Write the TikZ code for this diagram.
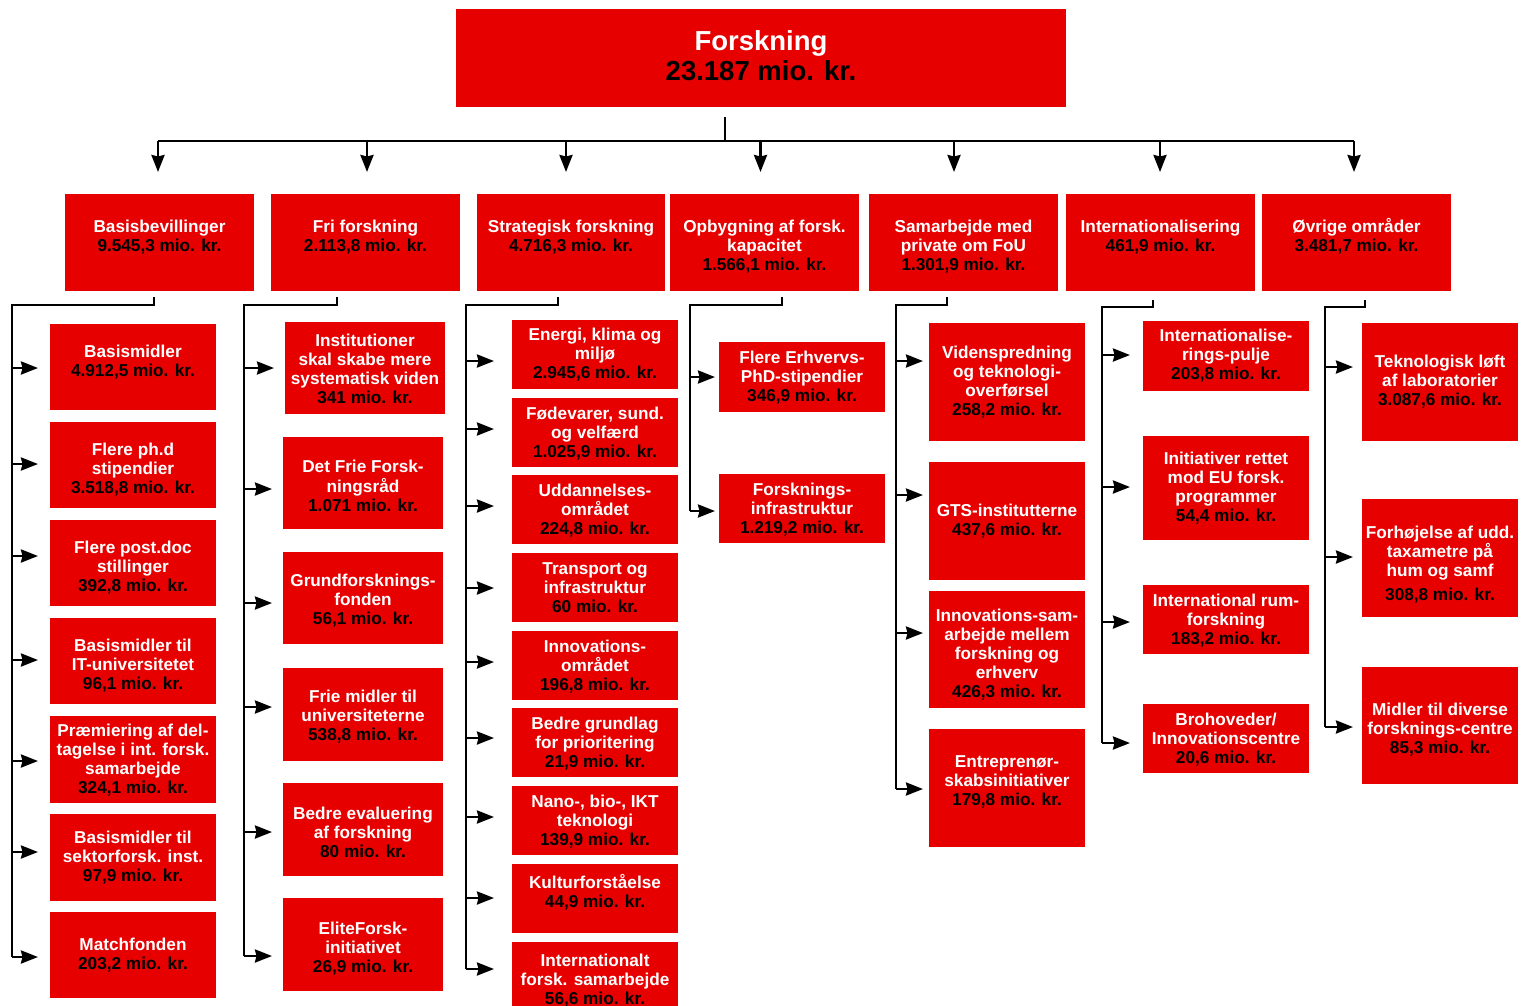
\documentclass[tikz,border=0pt]{standalone}
\usepackage{fontspec}
\setmainfont{Liberation Sans}
\usetikzlibrary{arrows.meta}
\definecolor{boxred}{RGB}{230,0,0}
\newcommand\tx[1]{\begin{tabular}[t]{@{}c@{}}#1\end{tabular}}
\newcommand\amt[1]{\textcolor{black}{#1}}
\tikzset{
  box/.style={draw=none, fill=boxred, inner sep=0pt, outer sep=0pt},
  txt/.style={inner sep=0pt, anchor=base, text=white, font=\fontsize{17.2}{19}\selectfont\bfseries},
  ttl/.style={inner sep=0pt, anchor=base, text=white, font=\fontsize{27.5}{30}\selectfont\bfseries},
  line/.style={draw=black, line width=2.7pt},
  arr/.style={line, -{Stealth[length=17pt,width=13pt,inset=1.5pt]}},
  gap1/.style={shorten >=12pt}, gap2/.style={shorten >=11pt}, gap3/.style={shorten >=18pt},
  gap4/.style={shorten >=4pt}, gap5/.style={shorten >=6pt}, gap6/.style={shorten >=13pt},
  gap7/.style={shorten >=9pt},
}
% name, column, x1, y1, x2, y2, baseline of first line, arrow y, text
\newcommand\lbox[9]{%
  \pgfmathsetmacro\bw{#5-#3}\pgfmathsetmacro\bh{#6-#4}%
  \pgfmathsetmacro\cx{(#3+#5)/2}\pgfmathsetmacro\cy{(#4+#6)/2}%
  \node[box, minimum width=\bw pt, minimum height=\bh pt] (#1) at (\cx,\cy) {};
  \node[txt] (#1t) at (\cx,#7) {\tx{#9}};
  \draw[arr, gap#2] (k#2 |- 0,#8) -- (#1.west |- 0,#8);
}
\begin{document}
\begin{tikzpicture}[x=1pt, y=-1pt]
\useasboundingbox (0,0) rectangle (1526,1005);
\fill[white] (0,0) rectangle (1526,1005);

% top node
\node[box, minimum width=610pt, minimum height=98pt] (top) at (761,58) {};
\node[ttl] (topt) at (761,50) {\tx{Forskning\\ \amt{23.187 mio. kr.}}};

% level 2
\foreach \n/\xa/\xb in {1/65/254, 2/271/460, 3/477/665, 4/670/859, 5/869/1058, 6/1066/1255, 7/1262/1451}{
  \pgfmathsetmacro\bw{\xb-\xa}\pgfmathsetmacro\cx{(\xa+\xb)/2}
  \node[box, minimum width=\bw pt, minimum height=97pt] (L\n) at (\cx,242.5) {};
}
\node[txt] (L1t) at (L1 |- 0,232) {\tx{Basisbevillinger\\ \amt{9.545,3 mio. kr.}}};
\node[txt] (L2t) at (L2 |- 0,232) {\tx{Fri forskning\\ \amt{2.113,8 mio. kr.}}};
\node[txt] (L3t) at (L3 |- 0,232) {\tx{Strategisk forskning\\ \amt{4.716,3 mio. kr.}}};
\node[txt] (L4t) at (L4 |- 0,232) {\tx{Opbygning af forsk.\\ kapacitet\\ \amt{1.566,1 mio. kr.}}};
\node[txt] (L5t) at (L5 |- 0,232) {\tx{Samarbejde med\\ private om FoU\\ \amt{1.301,9 mio. kr.}}};
\node[txt] (L6t) at (L6 |- 0,232) {\tx{Internationalisering\\ \amt{461,9 mio. kr.}}};
\node[txt] (L7t) at (L7 |- 0,232) {\tx{Øvrige områder\\ \amt{3.481,7 mio. kr.}}};

% top connectors
\coordinate (bar) at (725,141);
\draw[line] (top.south -| bar) ++(0,10) -- (bar);
\draw[line] ([xshift=-1.5pt]L1.north |- bar) -- ([xshift=-2.5pt]L7.north |- bar);
\foreach \n/\dx in {1/-1.5, 2/1.5, 3/-5, 4/-4, 5/-9.5, 6/-0.5, 7/-2.5}{
  \draw[arr, shorten >=22pt] ([xshift=\dx pt]L\n.north |- bar) -- ([xshift=\dx pt]L\n.north);
}

% trunks
\coordinate (k1) at (12,305);   \coordinate (s1) at (154,297);
\coordinate (k2) at (244,305);  \coordinate (s2) at (337,297);
\coordinate (k3) at (466,305);  \coordinate (s3) at (558,297);
\coordinate (k4) at (690,305);  \coordinate (s4) at (782,297);
\coordinate (k5) at (896,305);  \coordinate (s5) at (947,297);
\coordinate (k6) at (1102,307); \coordinate (s6) at (1153,300);
\coordinate (k7) at (1325,307); \coordinate (s7) at (1365,300);
\draw[line] (s1) |- (k1) -- (k1 |- 0,957);
\draw[line] (s2) |- (k2) -- (k2 |- 0,956);
\draw[line] (s3) |- (k3) -- (k3 |- 0,969);
\draw[line] (s4) |- (k4) -- (k4 |- 0,511);
\draw[line] (s5) |- (k5) -- (k5 |- 0,789);
\draw[line] (s6) |- (k6) -- (k6 |- 0,743);
\draw[line] (s7) |- (k7) -- (k7 |- 0,727);

% column 1
\lbox{a1}{1}{50}{324}{216}{410}{357.5}{368}{Basismidler\\ \amt{4.912,5 mio. kr.}}
\lbox{a2}{1}{50}{422}{216}{508}{455.5}{464}{Flere ph.d\\ stipendier\\ \amt{3.518,8 mio. kr.}}
\lbox{a3}{1}{50}{520}{216}{606}{553.5}{556}{Flere post.doc\\ stillinger\\ \amt{392,8 mio. kr.}}
\lbox{a4}{1}{50}{618}{216}{704}{651.5}{660}{Basismidler til\\ IT-universitetet\\ \amt{96,1 mio. kr.}}
\lbox{a5}{1}{50}{716}{216}{803}{736.5}{761}{Præmiering af del-\\ tagelse i int. forsk.\\ samarbejde\\ \amt{324,1 mio. kr.}}
\lbox{a6}{1}{50}{814}{216}{901}{843.5}{852}{Basismidler til\\ sektorforsk. inst.\\ \amt{97,9 mio. kr.}}
\lbox{a7}{1}{50}{912}{216}{998}{950.5}{957}{Matchfonden\\ \amt{203,2 mio. kr.}}

% column 2
\lbox{b1}{2}{285}{322}{445}{414}{346.5}{368}{Institutioner\\ skal skabe mere\\ systematisk viden\\ \amt{341 mio. kr.}}
\lbox{b2}{2}{283}{437}{443}{529}{472.5}{489}{Det Frie Forsk-\\ ningsråd\\ \amt{1.071 mio. kr.}}
\lbox{b3}{2}{283}{552}{443}{644}{586.5}{603}{Grundforsknings-\\ fonden\\ \amt{56,1 mio. kr.}}
\lbox{b4}{2}{283}{668}{443}{761}{702}{707}{Frie midler til\\ universiteterne\\ \amt{538,8 mio. kr.}}
\lbox{b5}{2}{283}{783}{443}{876}{819}{832}{Bedre evaluering\\ af forskning\\ \amt{80 mio. kr.}}
\lbox{b6}{2}{283}{898}{443}{991}{934}{956}{EliteForsk-\\ initiativet\\ \amt{26,9 mio. kr.}}

% column 3
\lbox{c1}{3}{512}{320}{678}{389}{340.5}{361}{Energi, klima og\\ miljø\\ \amt{2.945,6 mio. kr.}}
\lbox{c2}{3}{512}{398}{678}{467}{419}{429}{Fødevarer, sund.\\ og velfærd\\ \amt{1.025,9 mio. kr.}}
\lbox{c3}{3}{512}{475}{678}{544}{496}{506}{Uddannelses-\\ området\\ \amt{224,8 mio. kr.}}
\lbox{c4}{3}{512}{553}{678}{622}{574}{588}{Transport og\\ infrastruktur\\ \amt{60 mio. kr.}}
\lbox{c5}{3}{512}{631}{678}{700}{652}{662}{Innovations-\\ området\\ \amt{196,8 mio. kr.}}
\lbox{c6}{3}{512}{708}{678}{777}{729}{738}{Bedre grundlag\\ for prioritering\\ \amt{21,9 mio. kr.}}
\lbox{c7}{3}{512}{786}{678}{855}{807}{817}{Nano-, bio-, IKT\\ teknologi\\ \amt{139,9 mio. kr.}}
\lbox{c8}{3}{512}{864}{678}{933}{888.5}{898}{Kulturforståelse\\ \amt{44,9 mio. kr.}}
\lbox{c9}{3}{512}{942}{678}{1011}{966.5}{969}{Internationalt\\ forsk. samarbejde\\ \amt{56,6 mio. kr.}}

% column 4
\lbox{d1}{4}{719}{342}{885}{412}{363}{377}{Flere Erhvervs-\\ PhD-stipendier\\ \amt{346,9 mio. kr.}}
\lbox{d2}{4}{719}{474}{885}{543}{495}{511}{Forsknings-\\ infrastruktur\\ \amt{1.219,2 mio. kr.}}

% column 5
\lbox{e1}{5}{929}{323}{1085}{441}{358}{361}{Videnspredning\\ og teknologi-\\ overførsel\\ \amt{258,2 mio. kr.}}
\lbox{e2}{5}{929}{462}{1085}{580}{516}{495}{GTS-institutterne\\ \amt{437,6 mio. kr.}}
\lbox{e3}{5}{929}{591}{1085}{708}{621.5}{633}{Innovations-sam-\\ arbejde mellem\\ forskning og\\ erhverv\\ \amt{426,3 mio. kr.}}
\lbox{e4}{5}{929}{729}{1085}{847}{767.5}{789}{Entreprenør-\\ skabsinitiativer\\ \amt{179,8 mio. kr.}}

% column 6
\lbox{f1}{6}{1143}{321}{1309}{391}{341.5}{355}{Internationalise-\\ rings-pulje\\ \amt{203,8 mio. kr.}}
\lbox{f2}{6}{1143}{436}{1309}{540}{464}{487}{Initiativer rettet\\ mod EU forsk.\\ programmer\\ \amt{54,4 mio. kr.}}
\lbox{f3}{6}{1143}{585}{1309}{654}{606}{622}{International rum-\\ forskning\\ \amt{183,2 mio. kr.}}
\lbox{f4}{6}{1143}{704}{1309}{773}{725}{743}{Brohoveder/\\ Innovationscentre\\ \amt{20,6 mio. kr.}}

% column 7
\lbox{g1}{7}{1362}{323}{1518}{441}{367}{367}{Teknologisk løft\\ af laboratorier\\ \amt{3.087,6 mio. kr.}}
\lbox{g2}{7}{1362}{499}{1518}{617}{538}{557}{Forhøjelse af udd.\\ taxametre på\\ hum og samf\\[5pt] \amt{308,8 mio. kr.}}
\lbox{g3}{7}{1362}{667}{1518}{784}{715}{727}{Midler til diverse\\ forsknings-centre\\ \amt{85,3 mio. kr.}}
\end{tikzpicture}
\end{document}
